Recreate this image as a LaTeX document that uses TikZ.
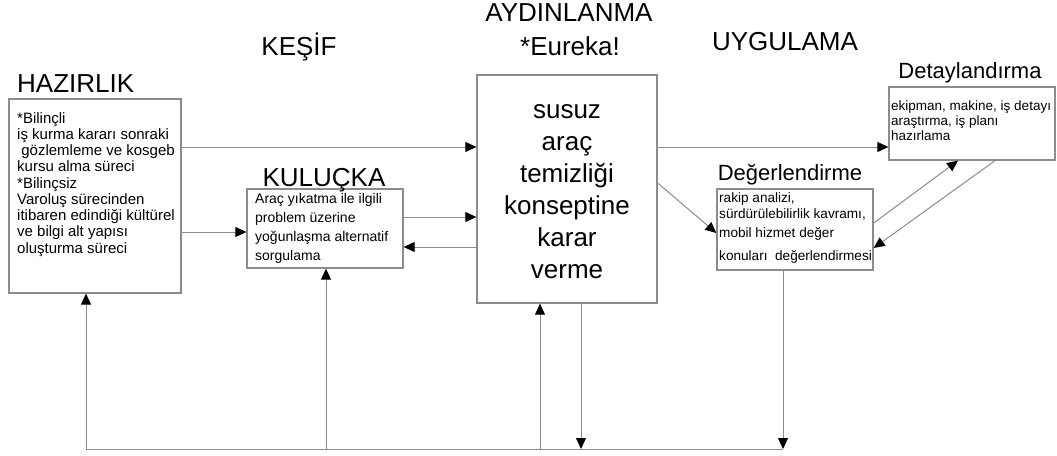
\documentclass[tikz,border=0pt]{standalone}
\usepackage{fontspec}
\setmainfont{Liberation Sans}
\usetikzlibrary{arrows.meta}
\definecolor{linegray}{RGB}{140,140,140}
\tikzset{
  box/.style={draw=linegray, line width=1.3pt, inner sep=0pt},
  conn/.style={draw=linegray, line width=1pt},
  arr/.style={conn, -{Triangle[length=11pt,width=10pt,color=black]}},
  lbl/.style={inner sep=0pt, font=\fontsize{26}{30}\selectfont},
  sublbl/.style={inner sep=0pt, font=\fontsize{22}{26}\selectfont},
  bodytxt/.style={inner sep=0pt, anchor=base west},
}
\begin{document}
\begin{tikzpicture}[x=1pt,y=-1pt]
\useasboundingbox (0,0) rectangle (1057,455);
% boxes
\node[box, minimum width=172, minimum height=194] (haz) at (95,196) {};
\node[box, minimum width=156, minimum height=79] (kul) at (325,228.5) {};
\node[box, minimum width=180, minimum height=228] (cen) at (567,189) {};
\node[box, minimum width=156, minimum height=81] (deg) at (795,229.5) {};
\node[box, minimum width=166, minimum height=73] (det) at (972,123.5) {};
% titles
\node[lbl, anchor=base west] (hazt) at (17,92) {HAZIRLIK};
\node[lbl, anchor=base] (kesif) at (299,55) {KEŞİF};
\node[lbl, anchor=base] (kult) at (324,186) {KULUÇKA};
\node[lbl, anchor=base] (aydt) at (569,21) {AYDINLANMA};
\node[lbl, anchor=base] (eur) at (570,55) {*Eureka!};
\node[lbl, anchor=base] (uyg) at (785,50) {UYGULAMA};
\node[sublbl, anchor=base] (degt) at (790,180) {Değerlendirme};
\node[sublbl, anchor=base] (dett) at (970,78) {Detaylandırma};
% body texts
\node[bodytxt, font=\fontsize{15}{16.25}\selectfont] (hazb) at (17,123)
  {\begin{tabular}[t]{@{}l@{}}*Bilinçli\\ iş kurma kararı sonraki\\ \ gözlemleme ve kosgeb\\ kursu alma süreci\\ \relax *Bilinçsiz\\ Varoluş sürecinden\\ itibaren edindiği kültürel\\ ve bilgi alt yapısı\\ oluşturma süreci\end{tabular}};
\node[bodytxt, font=\fontsize{14}{19}\selectfont] (kulb) at (255,203)
  {\begin{tabular}[t]{@{}l@{}}Araç yıkatma ile ilgili\\ problem üzerine\\ yoğunlaşma alternatif\\ sorgulama\end{tabular}};
\node[bodytxt, anchor=base, font=\fontsize{26}{32}\selectfont] (cenb) at (567,118)
  {\begin{tabular}[t]{@{}c@{}}susuz\\ araç\\ temizliği\\ konseptine\\ karar\\ verme\end{tabular}};
\node[bodytxt, font=\fontsize{13.6}{16}\selectfont] (degb) at (719,202)
  {\begin{tabular}[t]{@{}l@{}}rakip analizi,\\ sürdürülebilirlik kavramı,\\[3pt] mobil hizmet değer\\[7pt] konuları\ \ değerlendirmesi\end{tabular}};
\node[bodytxt, font=\fontsize{13.5}{15}\selectfont] (detb) at (891,110)
  {\begin{tabular}[t]{@{}l@{}}ekipman, makine, iş detayı\\ araştırma, iş planı\\ hazırlama\end{tabular}};
% connectors
\draw[arr] (haz.east |- 0,147) -- (cen.west |- 0,147);
\draw[arr] (haz.east |- 0,232) -- (kul.west |- 0,232);
\draw[arr] (kul.east |- 0,217) -- (cen.west |- 0,217);
\draw[arr] (cen.west |- 0,247) -- (kul.east |- 0,247);
\draw[arr] (cen.east |- 0,147) -- (det.west |- 0,147);
\draw[arr] (cen.east |- 0,183) -- (deg.west |- 0,233);
\draw[arr] (deg.east |- 0,223) -- (det.south -| 958,0);
\draw[arr] (det.south -| 995,0) -- (deg.east |- 0,248);
% bottom feedback
\coordinate (b1) at (86,449);
\coordinate (b2) at (326,449);
\coordinate (b3) at (540,449);
\coordinate (b4) at (581,449);
\coordinate (b5) at (783,449);
\draw[conn] (b1) -- (b5);
\draw[arr] (b1) -- (b1 |- haz.south);
\draw[arr] (b2) -- (b2 |- kul.south);
\draw[arr] (b3) -- (b3 |- cen.south);
\draw[arr] (b4 |- cen.south) -- (b4);
\draw[arr] (b5 |- deg.south) -- (b5);
\end{tikzpicture}
\end{document}
